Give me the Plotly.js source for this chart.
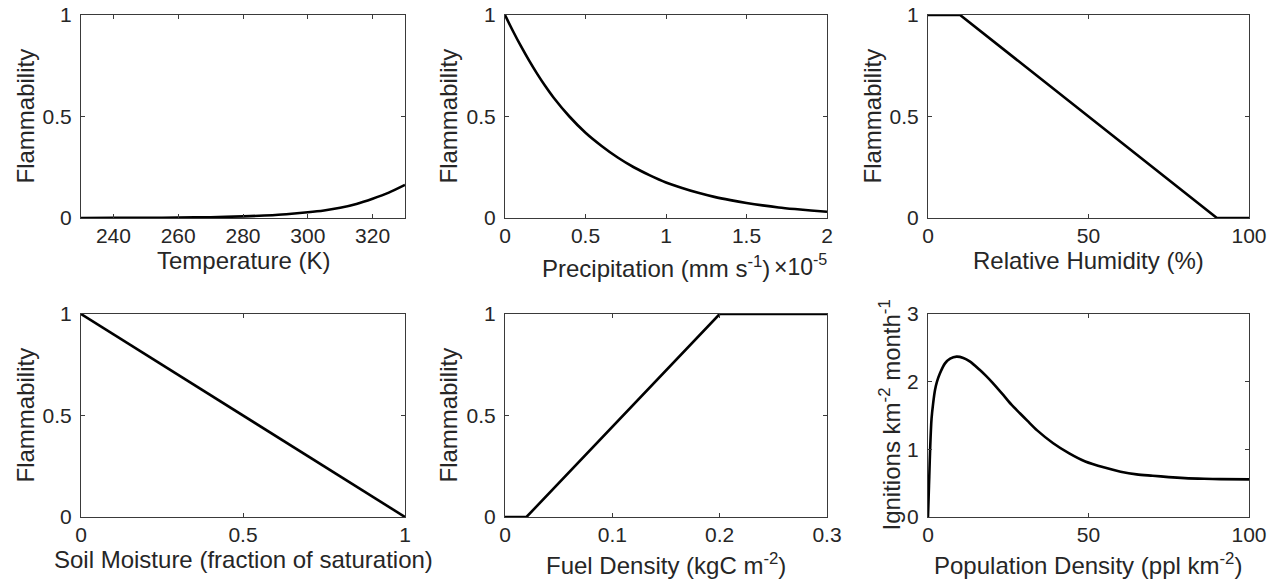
<!DOCTYPE html>
<html>
<head>
<meta charset="utf-8">
<script src="https://cdn.plot.ly/plotly-3.0.1.min.js"></script>
<style>html,body{margin:0;padding:0;background:#fff;}#chart{width:1282px;height:580px;}</style>
</head>
<body>
<div id="chart"></div>
<script>
// ---- Data ----
var tempK = [230, 240, 250, 260, 270, 280, 285, 290, 295, 300, 305, 310, 315, 320, 325, 330];
var tempFlam = [0.0002, 0.0005, 0.001, 0.002, 0.004, 0.008, 0.011, 0.015, 0.021, 0.028, 0.037, 0.05, 0.069, 0.095, 0.125, 0.163];

var precip = [0, 0.05, 0.1, 0.15, 0.2, 0.25, 0.3, 0.4, 0.5, 0.6, 0.7, 0.8, 0.9, 1.0, 1.1, 1.2, 1.3, 1.4, 1.5, 1.6, 1.7, 1.8, 1.9, 2.0];
var precipFlam = [1, 0.92, 0.845, 0.775, 0.71, 0.65, 0.595, 0.50, 0.42, 0.355, 0.298, 0.25, 0.21, 0.175, 0.148, 0.124, 0.104, 0.088, 0.074, 0.062, 0.052, 0.044, 0.037, 0.031];

var relHum = [0, 10, 90, 100];
var relHumFlam = [1, 1, 0, 0];

var soilMoist = [0, 1];
var soilFlam = [1, 0];

var fuelDens = [0, 0.02, 0.2, 0.3];
var fuelFlam = [0, 0, 1, 1];

var popDens = [0, 0.2, 0.4, 0.7, 1.1, 1.6, 2.2, 2.8, 3.7, 5.3, 6.9, 8.9, 11, 13, 16, 18, 20, 23.5, 26, 28.7, 31, 34, 39, 44, 49, 55, 60, 65, 70, 75, 80, 86, 91, 100];
var ignitions = [0, 0.3, 0.6, 1.05, 1.45, 1.68, 1.88, 2.0, 2.12, 2.27, 2.34, 2.37, 2.35, 2.30, 2.18, 2.09, 1.99, 1.80, 1.66, 1.53, 1.42, 1.28, 1.09, 0.94, 0.82, 0.73, 0.67, 0.63, 0.61, 0.59, 0.575, 0.565, 0.56, 0.556];

var xTitles = ['Temperature (K)', 'Precipitation (mm s<sup>-1</sup>)', 'Relative Humidity (%)',
               'Soil Moisture (fraction of saturation)', 'Fuel Density (kgC m<sup>-2</sup>)', 'Population Density (ppl km<sup>-2</sup>)'];
var yTitles = ['Flammability', 'Flammability', 'Flammability', 'Flammability', 'Flammability', 'Ignitions km<sup>-2</sup> month<sup>-1</sup>'];

var xTicks = [[240, 260, 280, 300, 320], [0, 0.5, 1, 1.5, 2], [0, 50, 100], [0, 0.5, 1], [0, 0.1, 0.2, 0.3], [0, 50, 100]];
var xRanges = [[230, 330], [0, 2], [0, 100], [0, 1], [0, 0.3], [0, 100]];
var yTicks = [[0, 0.5, 1], [0, 0.5, 1], [0, 0.5, 1], [0, 0.5, 1], [0, 0.5, 1], [0, 1, 2, 3]];
var yRanges = [[0, 1], [0, 1], [0, 1], [0, 1], [0, 1], [0, 3]];

var seriesX = [tempK, precip, relHum, soilMoist, fuelDens, popDens];
var seriesY = [tempFlam, precipFlam, relHumFlam, soilFlam, fuelFlam, ignitions];

// ---- Layout geometry (pixels) ----
var W = 1282, H = 580;
var colPx = [[81, 405], [505, 827], [928, 1249]];
var rowPx = [[15, 218], [314, 517]];
function px(x) { return x / W; }
function py(y) { return 1 - y / H; }

var FONT = 'Liberation Sans, Arial, Helvetica, sans-serif';
var TXT = '#262626';
var AX = '#3a3a3a';

var data = [];
var layout = {
  width: W, height: H,
  margin: {l: 0, r: 0, t: 0, b: 0},
  paper_bgcolor: '#ffffff', plot_bgcolor: '#ffffff',
  showlegend: false,
  font: {family: FONT, color: TXT},
  annotations: []
};

var xTitlePos = [[243, 260], [656, 267], [1088, 260], [243, 559], [666, 564], [1088, 564]];
var yTitlePosX = [25, 448, 872, 25, 448, 889];

for (var i = 0; i < 6; i++) {
  var r = Math.floor(i / 3), c = i % 3;
  var sfx = i === 0 ? '' : String(i + 1);
  data.push({
    type: 'scatter', mode: 'lines',
    x: seriesX[i], y: seriesY[i],
    xaxis: 'x' + sfx, yaxis: 'y' + sfx,
    line: {color: '#000000', width: 2.6, shape: (i === 0 || i === 1 || i === 5) ? 'spline' : 'linear', smoothing: 0.8},
    cliponaxis: false, hoverinfo: 'skip'
  });
  var common = {
    showline: true, mirror: 'ticks', linecolor: AX, linewidth: 1,
    ticks: 'inside', ticklen: 4, tickwidth: 1, tickcolor: AX,
    tickfont: {family: FONT, size: 21, color: TXT},
    showgrid: false, zeroline: false, fixedrange: true
  };
  layout['xaxis' + sfx] = Object.assign({}, common, {
    domain: [px(colPx[c][0]), px(colPx[c][1])],
    range: xRanges[i], tickmode: 'array', tickvals: xTicks[i],
    anchor: 'y' + sfx, ticklabelstandoff: -1
  });
  layout['yaxis' + sfx] = Object.assign({}, common, {
    domain: [py(rowPx[r][1]), py(rowPx[r][0])],
    range: yRanges[i], tickmode: 'array', tickvals: yTicks[i],
    anchor: 'x' + sfx, ticklabelstandoff: 4
  });
  layout.annotations.push({
    xref: 'paper', yref: 'paper', x: px(xTitlePos[i][0]), y: py(xTitlePos[i][1]),
    xanchor: 'center', yanchor: 'middle', showarrow: false,
    text: xTitles[i], font: {family: FONT, size: 24, color: TXT}
  });
  layout.annotations.push({
    xref: 'paper', yref: 'paper', x: px(yTitlePosX[i]), y: py((rowPx[r][0] + rowPx[r][1]) / 2),
    xanchor: 'center', yanchor: 'middle', showarrow: false, textangle: -90,
    text: yTitles[i], font: {family: FONT, size: 24, color: TXT}
  });
}
layout.annotations.push({
  xref: 'paper', yref: 'paper', x: px(829), y: py(265),
  xanchor: 'right', yanchor: 'middle', showarrow: false,
  text: '\u00d710<sup>-5</sup>', font: {family: FONT, size: 23, color: TXT}
});

Plotly.newPlot('chart', data, layout, {displayModeBar: false, staticPlot: true});
</script>
</body>
</html>
